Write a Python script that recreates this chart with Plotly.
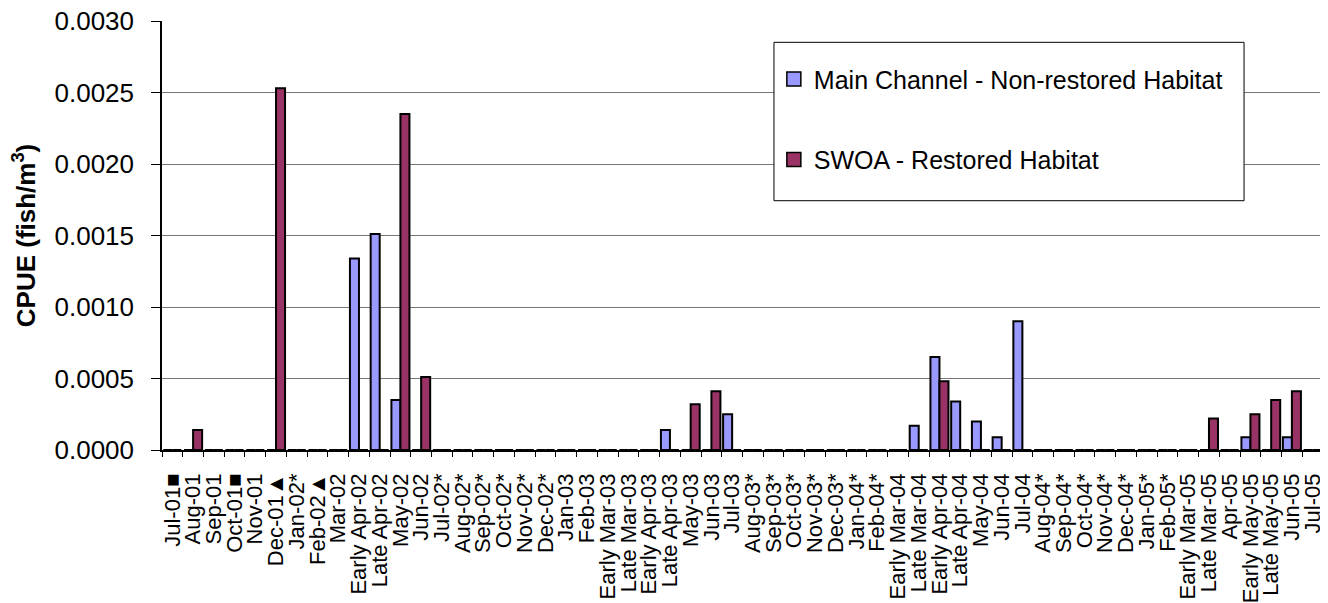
import plotly.graph_objects as go

categories = [
    "Jul-01■", "Aug-01", "Sep-01", "Oct-01■", "Nov-01", "Dec-01▲", "Jan-02*", "Feb-02▲",
    "Mar-02", "Early Apr-02", "Late Apr-02", "May-02", "Jun-02", "Jul-02*", "Aug-02*",
    "Sep-02*", "Oct-02*", "Nov-02*", "Dec-02*", "Jan-03", "Feb-03", "Early Mar-03",
    "Late Mar-03", "Early Apr-03", "Late Apr-03", "May-03", "Jun-03", "Jul-03", "Aug-03*",
    "Sep-03*", "Oct-03*", "Nov-03*", "Dec-03*", "Jan-04*", "Feb-04*", "Early Mar-04",
    "Late Mar-04", "Early Apr-04", "Late Apr-04", "May-04", "Jun-04", "Jul-04", "Aug-04*",
    "Sep-04*", "Oct-04*", "Nov-04*", "Dec-04*", "Jan-05*", "Feb-05*", "Early Mar-05",
    "Late Mar-05", "Apr-05", "Early May-05", "Late May-05", "Jun-05", "Jul-05",
]

main_channel = [
    0, 0, 0, 0, 0, 0, 0, 0,
    0, 0.00134, 0.00151, 0.00035, 0, 0, 0,
    0, 0, 0, 0, 0, 0, 0,
    0, 0, 0.00014, 0, 0, 0.00025, 0,
    0, 0, 0, 0, 0, 0, 0,
    0.00017, 0.00065, 0.00034, 0.00020, 0.00009, 0.00090, 0,
    0, 0, 0, 0, 0, 0, 0,
    0, 0, 0.00009, 0, 0.00009, 0,
]

swoa = [
    0, 0.00014, 0, 0, 0, 0.00253, 0, 0,
    0, 0, 0, 0.00235, 0.00051, 0, 0,
    0, 0, 0, 0, 0, 0, 0,
    0, 0, 0, 0.00032, 0.00041, 0, 0,
    0, 0, 0, 0, 0, 0, 0,
    0, 0.00048, 0, 0, 0, 0, 0,
    0, 0, 0, 0, 0, 0, 0,
    0.00022, 0, 0.00025, 0.00035, 0.00041, 0,
]

series_names = ["Main Channel - Non-restored Habitat", "SWOA - Restored Habitat"]
colors = ["#9999FF", "#993366"]

FONT = "Arial, 'Liberation Sans', 'DejaVu Sans', sans-serif"

fig = go.Figure()
for name, vals, col, grp in zip(series_names, [main_channel, swoa], colors, ["a", "b"]):
    fig.add_trace(go.Bar(
        x=categories, y=vals, name=name, legendgroup=grp, showlegend=False,
        marker=dict(color=col, line=dict(color="black", width=2)),
    ))
# legend entries (square swatches like the reference)
for name, col, grp in zip(series_names, colors, ["a", "b"]):
    fig.add_trace(go.Scatter(
        x=[None], y=[None], mode="markers", name=name, legendgroup=grp,
        marker=dict(symbol="square", size=14, color=col, line=dict(color="black", width=1.5)),
    ))

# page body has an 8px margin, so the figure is sized to fit the 1328x603 window
fig.update_layout(
    template="none",
    width=1320, height=595,
    margin=dict(l=154, r=5, t=13, b=153, autoexpand=False),
    paper_bgcolor="white", plot_bgcolor="white",
    barmode="group", bargap=0.13, bargroupgap=0,
    font=dict(family=FONT, color="black"),
    showlegend=True,
    legend=dict(
        x=0.527, y=0.918, xanchor="left", yanchor="top",
        font=dict(size=25, family=FONT, color="black"),
        bgcolor="rgba(0,0,0,0)", borderwidth=0,
        tracegroupgap=45, itemwidth=30,
    ),
    xaxis=dict(
        type="category", tickmode="linear", dtick=1, tick0=0,
        tickson="boundaries", ticks="outside", ticklen=5, tickcolor="black",
        tickangle=-90, tickfont=dict(size=22, family=FONT),
        showline=True, linecolor="black", linewidth=1.5,
        showgrid=False, ticklabelstandoff=13, automargin=False,
        ticklabeloverflow="allow",
    ),
    yaxis=dict(
        range=[0, 0.003], dtick=0.0005, tick0=0, tickformat=".4f",
        ticks="outside", ticklen=9, tickcolor="black",
        tickfont=dict(size=26, family=FONT),
        showline=True, linecolor="black", linewidth=1.5,
        showgrid=True, gridcolor="#777777", gridwidth=1,
        zeroline=False, ticklabelstandoff=12, automargin=False,
        ticklabeloverflow="allow",
        title=dict(text="<b>CPUE (fish/m<sup>3</sup>)</b>", font=dict(size=26, family=FONT), standoff=14),
    ),
    shapes=[
        dict(type="line", xref="paper", yref="paper", x0=1, x1=1, y0=0, y1=1,
             line=dict(color="#888888", width=1.5)),
        dict(type="rect", xref="paper", yref="paper", x0=0.5271, x1=0.9320, y0=0.5811, y1=0.9503,
             fillcolor="white", line=dict(color="black", width=1), layer="above"),
    ],
)

fig.write_html("out.html")
